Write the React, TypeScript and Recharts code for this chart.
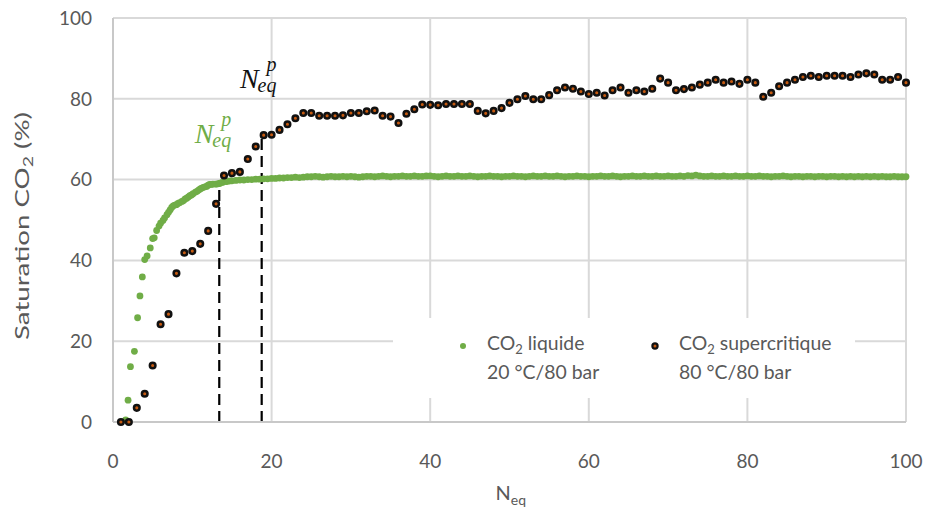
import React from "react";
import {
  ScatterChart,
  Scatter,
  XAxis,
  YAxis,
  CartesianGrid,
  ReferenceLine,
  ReferenceDot,
  Legend,
} from "recharts";

const xTicks = [0, 20, 40, 60, 80, 100];
const yTicks = [0, 20, 40, 60, 80, 100];

// CO2 liquide 20 °C/80 bar
const liquidN = [
  1.6, 1.9, 2.2, 2.7, 3.1, 3.4, 3.7, 4.0, 4.3, 4.7,
  5.0, 5.2, 5.5, 5.8, 6.0, 6.3, 6.5, 6.8, 7.0, 7.2,
  7.4, 7.6, 7.8, 8.0, 8.2, 8.4, 8.7, 8.9, 9.1, 9.3,
  9.5, 9.7, 9.9, 10.1, 10.4, 10.6, 10.8, 11.0, 11.2, 11.4,
  11.6, 11.8, 12.0, 12.2, 12.4, 12.6, 12.9, 13.1, 13.3, 13.5,
  13.8, 14.1, 14.3, 14.5, 14.8,
  15, 15.5, 16, 16.5, 17, 17.5, 18, 18.5, 19, 19.5,
  20, 20.5, 21, 21.5, 22, 22.5, 23, 23.5, 24, 24.5,
  25, 25.5, 26, 26.5, 27, 27.5, 28, 28.5, 29, 29.5,
  30, 30.5, 31, 31.5, 32, 32.5, 33, 33.5, 34, 34.5,
  35, 35.5, 36, 36.5, 37, 37.5, 38, 38.5, 39, 39.5,
  40, 40.5, 41, 41.5, 42, 42.5, 43, 43.5, 44, 44.5,
  45, 45.5, 46, 46.5, 47, 47.5, 48, 48.5, 49, 49.5,
  50, 50.5, 51, 51.5, 52, 52.5, 53, 53.5, 54, 54.5,
  55, 55.5, 56, 56.5, 57, 57.5, 58, 58.5, 59, 59.5,
  60, 60.5, 61, 61.5, 62, 62.5, 63, 63.5, 64, 64.5,
  65, 65.5, 66, 66.5, 67, 67.5, 68, 68.5, 69, 69.5,
  70, 70.5, 71, 71.5, 72, 72.5, 73, 73.5, 74, 74.5,
  75, 75.5, 76, 76.5, 77, 77.5, 78, 78.5, 79, 79.5,
  80, 80.5, 81, 81.5, 82, 82.5, 83, 83.5, 84, 84.5,
  85, 85.5, 86, 86.5, 87, 87.5, 88, 88.5, 89, 89.5,
  90, 90.5, 91, 91.5, 92, 92.5, 93, 93.5, 94, 94.5,
  95, 95.5, 96, 96.5, 97, 97.5, 98, 98.5, 99, 99.5,
  100,
];
const liquidSat = [
  0.5, 5.4, 13.7, 17.5, 25.8, 31.2, 35.9, 40.2, 41.1, 43.1,
  45.4, 45.6, 47.4, 48.5, 49.2, 49.9, 50.5, 51.3, 51.9, 52.5,
  53.1, 53.5, 53.7, 53.8, 54.1, 54.3, 54.6, 54.8, 55.2, 55.4,
  55.7, 56.0, 56.2, 56.5, 56.9, 57.1, 57.4, 57.7, 57.9, 58.1,
  58.2, 58.3, 58.6, 58.8, 58.8, 58.9, 58.9, 58.9, 59.0, 59.1,
  59.3, 59.6, 59.5, 59.6, 59.7,
  59.7, 59.8, 59.9, 59.9, 60.0, 60.0, 60.1, 60.1, 60.2, 60.2,
  60.3, 60.3, 60.4, 60.4, 60.5, 60.5, 60.6, 60.5, 60.6, 60.7,
  60.7, 60.8, 60.7, 60.6, 60.7, 60.8, 60.7, 60.7, 60.8, 60.7,
  60.8, 60.7, 60.6, 60.7, 60.8, 60.8, 60.7, 60.8, 60.9, 60.8,
  60.7, 60.8, 60.8, 60.9, 60.8, 60.8, 60.9, 60.8, 60.8, 60.9,
  60.9, 60.8, 60.7, 60.8, 60.9, 60.8, 60.8, 60.9, 60.8, 60.8,
  60.9, 60.8, 60.7, 60.8, 60.8, 60.9, 60.8, 60.8, 60.7, 60.8,
  60.8, 60.9, 60.8, 60.8, 60.7, 60.8, 60.9, 60.8, 60.8, 60.9,
  60.8, 60.8, 60.9, 60.8, 60.7, 60.8, 60.8, 60.9, 60.8, 60.8,
  60.7, 60.8, 60.8, 60.9, 60.8, 60.8, 60.9, 60.8, 60.7, 60.8,
  60.8, 60.9, 60.8, 60.8, 60.9, 60.8, 60.8, 60.9, 60.8, 60.8,
  60.9, 60.8, 60.8, 60.9, 60.8, 61.0, 60.9, 61.1, 60.9, 60.8,
  60.8, 60.9, 60.8, 60.8, 60.9, 60.8, 60.8, 60.9, 60.8, 60.8,
  60.9, 60.8, 60.8, 60.9, 60.8, 60.8, 60.7, 60.8, 60.8, 60.9,
  60.8, 60.7, 60.8, 60.8, 60.7, 60.8, 60.8, 60.7, 60.8, 60.8,
  60.7, 60.8, 60.8, 60.7, 60.8, 60.7, 60.8, 60.7, 60.8, 60.7,
  60.8, 60.7, 60.8, 60.7, 60.8, 60.7, 60.7, 60.8, 60.7, 60.7,
  60.7,
];

// CO2 supercritique 80 °C/80 bar
const superN = [
  1, 2, 3, 4, 5, 6, 7, 8, 9, 10,
  11, 12, 13, 14, 15, 16, 17, 18, 19, 20,
  21, 22, 23, 24, 25, 26, 27, 28, 29, 30,
  31, 32, 33, 34, 35, 36, 37, 38, 39, 40,
  41, 42, 43, 44, 45, 46, 47, 48, 49, 50,
  51, 52, 53, 54, 55, 56, 57, 58, 59, 60,
  61, 62, 63, 64, 65, 66, 67, 68, 69, 70,
  71, 72, 73, 74, 75, 76, 77, 78, 79, 80,
  81, 82, 83, 84, 85, 86, 87, 88, 89, 90,
  91, 92, 93, 94, 95, 96, 97, 98, 99, 100,
];
const superSat = [
  0, 0, 3.5, 7, 14, 24.2, 26.7, 36.8, 41.9, 42.3,
  44.1, 47.3, 54, 61, 61.6, 61.9, 65.1, 68.2, 71.0, 71.1,
  72.3, 73.7, 75.2, 76.5, 76.5, 75.8, 75.8, 75.8, 75.9, 76.5,
  76.5, 76.9, 77.1, 75.8, 75.6, 74.0, 76.3, 77.4, 78.6, 78.5,
  78.4, 78.7, 78.7, 78.7, 78.7, 77.0, 76.4, 77.0, 77.7, 79.0,
  79.9, 80.7, 79.9, 79.9, 80.9, 82.1, 82.8, 82.5, 81.8, 81.2,
  81.5, 80.8, 82.1, 82.8, 81.5, 82.1, 81.8, 82.5, 85.0, 84.0,
  82.1, 82.4, 82.8, 83.5, 84.0, 84.7, 84.0, 84.3, 83.7, 84.7,
  84.0, 80.5, 81.5, 83.1, 84.0, 84.7, 85.4, 85.7, 85.4, 85.7,
  85.7, 85.7, 85.4, 86.0, 86.3, 86.0, 84.7, 84.7, 85.4, 84.0,
];

// N_eq^p markers (dashed lines) and where their labels sit
const neqLiquid = [13.4, 59.8];
const neqSuper = [18.75, 70.9];
const labelLiquid = [10.3, 69.1];
const labelSuper = [16.0, 82.6];

const GREEN = "#70AD47";
const TEXT = "#595959";
const FONT = "Lato, 'Open Sans', sans-serif";

const liquidData = liquidN.map((n, i) => ({ n, sat: liquidSat[i] }));
const superData = superN.map((n, i) => ({ n, sat: superSat[i] }));

const GreenDot = (p: any) => (
  <circle cx={p.cx} cy={p.cy} r={3.4} fill={GREEN} />
);

const BlackDot = (p: any) => (
  <circle cx={p.cx} cy={p.cy} r={2.8} fill="#C55A11" stroke="#111" strokeWidth={2.5} />
);

function NeqMark({ viewBox, color }: any) {
  if (!viewBox) return null;
  return (
    <text
      x={viewBox.x}
      y={viewBox.y}
      fill={color}
      fontFamily="'Liberation Serif', serif"
      fontStyle="italic"
      fontSize={28}
    >
      N
      <tspan dx={8} dy={-17} fontSize={20}>p</tspan>
      <tspan dx={-19} dy={21} fontSize={20}>eq</tspan>
    </text>
  );
}

function YTitle() {
  const cy = 226;
  const cx = 29;
  return (
    <text
      x={cx}
      y={cy}
      transform={`rotate(-90, ${cx}, ${cy})`}
      textAnchor="middle"
      textLength={228}
      lengthAdjust="spacingAndGlyphs"
      fill={TEXT}
      fontFamily={FONT}
      fontSize={20}
    >
      Saturation CO
      <tspan fontSize={14} dy={4}>2</tspan>
      <tspan dy={-4}> (%)</tspan>
    </text>
  );
}

function XTitle({ viewBox }: any) {
  const cx = viewBox ? viewBox.x + viewBox.width / 2 : 510;
  return (
    <text x={cx - 14} y={500} fill={TEXT} fontFamily={FONT} fontSize={20}>
      N<tspan fontSize={14} dy={5}>eq</tspan>
    </text>
  );
}

function LegendBox() {
  const line: React.CSSProperties = { lineHeight: "25.7px", whiteSpace: "nowrap" };
  const sub: React.CSSProperties = { fontSize: 13, position: "relative", top: 4 };
  return (
    <div
      style={{
        position: "relative",
        width: 462,
        height: 80,
        background: "#fff",
        fontFamily: FONT,
        fontSize: 19.4,
        color: TEXT,
      }}
    >
      <svg width={462} height={80} style={{ position: "absolute", left: 0, top: 0 }}>
        <circle cx={70} cy={28} r={3} fill={GREEN} />
        <circle cx={262} cy={28} r={2.6} fill="#C55A11" stroke="#111" strokeWidth={2.2} />
      </svg>
      <div style={{ position: "absolute", left: 94, top: 12 }}>
        <div style={line}>
          CO<span style={sub}>2</span> liquide
        </div>
        <div style={line}>20 °C/80 bar</div>
      </div>
      <div style={{ position: "absolute", left: 286, top: 12 }}>
        <div style={line}>
          CO<span style={sub}>2</span> supercritique
        </div>
        <div style={line}>80 °C/80 bar</div>
      </div>
    </div>
  );
}

export default function App() {
  return (
    <div style={{ position: "absolute", left: 0, top: 0, background: "#fff" }}>
      <ScatterChart
        width={927}
        height={510}
        margin={{ top: 18, right: 21, bottom: 0, left: 0 }}
      >
        <CartesianGrid stroke="#D9D9D9" strokeWidth={2} />
        <XAxis
          type="number"
          dataKey="n"
          domain={[0, 100]}
          ticks={xTicks}
          height={88}
          axisLine={{ stroke: "#C8C8C8", strokeWidth: 2 }}
          tickLine={false}
          tickSize={0}
          tickMargin={33}
          tick={{ fill: TEXT, fontSize: 19, fontFamily: FONT }}
          label={<XTitle />}
        />
        <YAxis
          type="number"
          dataKey="sat"
          domain={[0, 100]}
          ticks={yTicks}
          width={113}
          axisLine={{ stroke: "#C8C8C8", strokeWidth: 2 }}
          tickLine={false}
          tickSize={0}
          tickMargin={21}
          tick={{ fill: TEXT, fontSize: 19, fontFamily: FONT }}
          label={<YTitle />}
        />
        <Legend
          layout="vertical"
          align="center"
          verticalAlign="middle"
          wrapperStyle={{ left: 393, top: 318, width: 462, height: 80 }}
          content={() => <LegendBox />}
        />
        <ReferenceLine
          segment={[
            { x: neqLiquid[0], y: 0 },
            { x: neqLiquid[0], y: neqLiquid[1] },
          ]}
          stroke="#000"
          strokeWidth={2.2}
          strokeDasharray="11 6"
        />
        <ReferenceLine
          segment={[
            { x: neqSuper[0], y: 0 },
            { x: neqSuper[0], y: neqSuper[1] },
          ]}
          stroke="#000"
          strokeWidth={2.2}
          strokeDasharray="11 6"
        />
        <Scatter
          name="CO2 liquide 20 °C/80 bar"
          data={liquidData}
          fill={GREEN}
          shape={GreenDot}
          isAnimationActive={false}
        />
        <Scatter
          name="CO2 supercritique 80 °C/80 bar"
          data={superData}
          fill="#000"
          shape={BlackDot}
          isAnimationActive={false}
        />
        <ReferenceDot
          x={labelLiquid[0]}
          y={labelLiquid[1]}
          r={0}
          stroke="none"
          fill="none"
          label={<NeqMark color={GREEN} />}
        />
        <ReferenceDot
          x={labelSuper[0]}
          y={labelSuper[1]}
          r={0}
          stroke="none"
          fill="none"
          label={<NeqMark color="#111" />}
        />
      </ScatterChart>
    </div>
  );
}
